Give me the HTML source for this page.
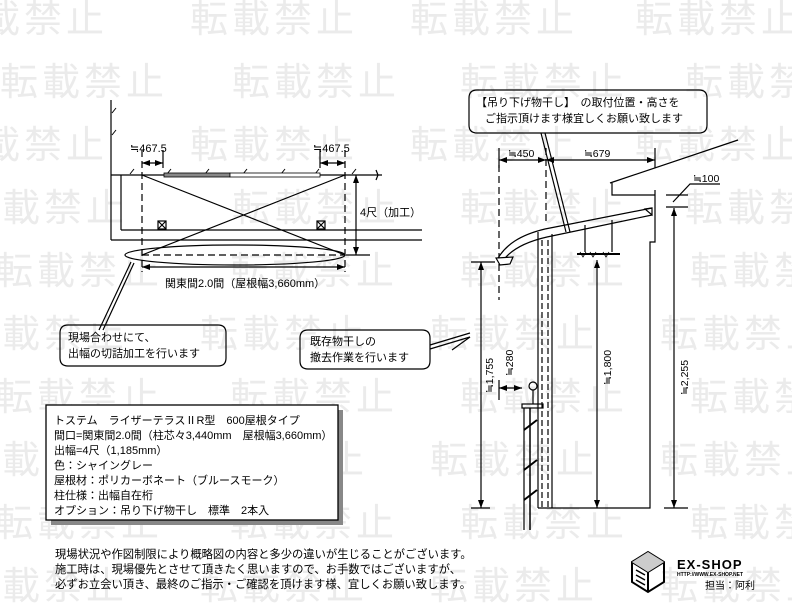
<!DOCTYPE html>
<html><head><meta charset="utf-8"><style>
html,body{margin:0;padding:0;background:#fff;}
svg{display:block;}
text{font-family:"Liberation Sans","Noto Sans CJK JP",sans-serif;fill:#000;}
.wm{font-size:38px;fill:#ebebeb;letter-spacing:4px;}
</style></head><body>
<svg width="792" height="612" viewBox="0 0 792 612" xmlns="http://www.w3.org/2000/svg">
<g class="wm">
<text x="-60" y="32" class="wm">転載禁止</text><text x="190" y="32" class="wm">転載禁止</text><text x="410" y="32" class="wm">転載禁止</text><text x="635" y="32" class="wm">転載禁止</text>
<text x="0" y="95" class="wm">転載禁止</text><text x="232" y="95" class="wm">転載禁止</text><text x="460" y="95" class="wm">転載禁止</text><text x="685" y="95" class="wm">転載禁止</text>
<text x="-60" y="158" class="wm">転載禁止</text><text x="190" y="158" class="wm">転載禁止</text><text x="410" y="158" class="wm">転載禁止</text><text x="635" y="158" class="wm">転載禁止</text>
<text x="-40" y="221" class="wm">転載禁止</text><text x="232" y="221" class="wm">転載禁止</text><text x="460" y="221" class="wm">転載禁止</text><text x="685" y="221" class="wm">転載禁止</text>
<text x="-5" y="284" class="wm">転載禁止</text><text x="230" y="284" class="wm">転載禁止</text><text x="460" y="284" class="wm">転載禁止</text><text x="690" y="284" class="wm">転載禁止</text>
<text x="-40" y="347" class="wm">転載禁止</text><text x="200" y="347" class="wm">転載禁止</text><text x="430" y="347" class="wm">転載禁止</text><text x="660" y="347" class="wm">転載禁止</text>
<text x="-5" y="410" class="wm">転載禁止</text><text x="230" y="410" class="wm">転載禁止</text><text x="460" y="410" class="wm">転載禁止</text><text x="690" y="410" class="wm">転載禁止</text>
<text x="-40" y="473" class="wm">転載禁止</text><text x="200" y="473" class="wm">転載禁止</text><text x="430" y="473" class="wm">転載禁止</text><text x="660" y="473" class="wm">転載禁止</text>
<text x="-5" y="536" class="wm">転載禁止</text><text x="230" y="536" class="wm">転載禁止</text><text x="460" y="536" class="wm">転載禁止</text><text x="690" y="536" class="wm">転載禁止</text>
<text x="-40" y="599" class="wm">転載禁止</text><text x="200" y="599" class="wm">転載禁止</text><text x="430" y="599" class="wm">転載禁止</text><text x="660" y="599" class="wm">転載禁止</text>
</g>
<defs>
<marker id="ar" markerWidth="8" markerHeight="6" refX="8" refY="3" orient="auto" markerUnits="userSpaceOnUse"><path d="M0,0 L8,3 L0,6 z" fill="#000"/></marker>
<marker id="al" markerWidth="8" markerHeight="6" refX="0" refY="3" orient="auto" markerUnits="userSpaceOnUse"><path d="M8,0 L0,3 L8,6 z" fill="#000"/></marker>
</defs>
<g stroke="#000" fill="none" stroke-width="1.2">
<line x1="111" y1="100" x2="111" y2="240"/>
<line x1="111" y1="240" x2="422" y2="240"/>
<line x1="121" y1="175" x2="121" y2="230"/>
<line x1="121" y1="230" x2="422" y2="230"/>
<line x1="111" y1="175" x2="382" y2="175"/>
<path d="M376,170 L378,175 L376,180"/>
<g stroke-width="1"><line x1="112" y1="113" x2="116" y2="108"/><line x1="112" y1="135" x2="116" y2="130"/><line x1="130" y1="174" x2="134" y2="169"/><line x1="167" y1="174" x2="171" y2="169"/><line x1="205" y1="174" x2="209" y2="169"/><line x1="243" y1="174" x2="247" y2="169"/><line x1="281" y1="174" x2="285" y2="169"/><line x1="315" y1="174" x2="319" y2="169"/><line x1="352" y1="174" x2="356" y2="169"/></g>
<rect x="164" y="173" width="66" height="4" fill="#888" stroke="#000" stroke-width="0.8"/>
<rect x="230" y="173" width="90" height="4" fill="#fff" stroke="#000" stroke-width="0.8"/>
<g stroke-dasharray="7,4">
<line x1="142" y1="150" x2="142" y2="272"/><line x1="345" y1="150" x2="345" y2="272"/>
<line x1="142" y1="255" x2="345" y2="255"/>
</g>
<line x1="142" y1="175" x2="345" y2="255"/><line x1="345" y1="175" x2="142" y2="255"/>
<rect x="158" y="221" width="8" height="8"/><path d="M158,221 L166,229 M166,221 L158,229"/>
<rect x="317" y="221" width="8" height="8"/><path d="M317,221 L325,229 M325,221 L317,229"/>
<line x1="163" y1="150" x2="163" y2="168"/><line x1="320" y1="150" x2="320" y2="168"/>
<line x1="142" y1="163" x2="163" y2="163" marker-start="url(#al)" marker-end="url(#ar)"/>
<line x1="320" y1="163" x2="345" y2="163" marker-start="url(#al)" marker-end="url(#ar)"/>
<line x1="356" y1="175" x2="356" y2="255" marker-start="url(#al)" marker-end="url(#ar)"/>
<line x1="346" y1="255" x2="370" y2="255"/>
<line x1="142" y1="267" x2="345" y2="267" marker-start="url(#al)" marker-end="url(#ar)"/>
<ellipse cx="235" cy="255" rx="110" ry="10"/>
<path d="M131,262 L99,330 M134,263 L103,330"/>
<path d="M68,325 H218 Q226,325 226,333 V358 Q226,366 218,366 H68 Q60,366 60,358 V333 Q60,325 68,325 Z"/>
<path d="M308,330 H422 Q430,330 430,338 V361 Q430,369 422,369 H308 Q300,369 300,361 V338 Q300,330 308,330 Z"/>
<path d="M430,345 L470,333 M430,349 L470,337"/>
<rect x="51" y="410" width="292" height="115" fill="#888" stroke="none"/>
<rect x="46" y="405" width="292" height="115" fill="#fff" stroke="#000" stroke-width="1.3"/>
<path d="M477,90 H699 Q707,90 707,98 V125 Q707,133 699,133 H477 Q469,133 469,125 V98 Q469,90 477,90 Z"/>
<path d="M541,133 L566,232 M545,133 L570,232"/>
<line x1="499" y1="148" x2="499" y2="168"/><line x1="655" y1="148" x2="655" y2="168"/>
<line x1="499" y1="160" x2="546" y2="160" marker-start="url(#al)" marker-end="url(#ar)"/>
<line x1="546" y1="160" x2="655" y2="160" marker-start="url(#al)" marker-end="url(#ar)"/>
<g stroke-dasharray="7,4"><line x1="499" y1="165" x2="499" y2="300"/><line x1="546" y1="148" x2="546" y2="225"/></g>
<line x1="610" y1="183" x2="738" y2="140"/>
<path d="M612,183 V195 H655"/>
<path d="M655,190 V242 H650 V508 H538"/>
<path d="M497,260 C505,245 520,235 545,229 L652,208"/>
<path d="M502,262 C510,250 525,242 547,237 L652,215"/>
<path d="M496,258 L500,265 L510,264 L513,257 Z" fill="#fff"/>
<path d="M645,209 L652,208 L652,215 Z"/>
<line x1="538" y1="232" x2="538" y2="508"/><line x1="552" y1="234" x2="552" y2="508"/>
<g stroke-dasharray="6,3"><line x1="542" y1="240" x2="542" y2="508"/><line x1="548" y1="240" x2="548" y2="508"/></g>
<line x1="585" y1="225" x2="585" y2="252"/><line x1="612" y1="220" x2="612" y2="252"/>
<line x1="577" y1="254" x2="620" y2="254" stroke-width="2"/>
<path d="M580,252 L583,257 L586,252 M590,252 L593,257 L596,252 M603,252 L606,257 L609,252" stroke-width="0.8"/>
<line x1="666" y1="195" x2="688" y2="195"/><line x1="666" y1="207" x2="688" y2="207"/>
<path d="M673,202 L690,184 H720"/>
<line x1="674" y1="208" x2="674" y2="508" marker-start="url(#al)" marker-end="url(#ar)"/>
<line x1="664" y1="508" x2="688" y2="508"/>
<line x1="597" y1="260" x2="597" y2="508" marker-start="url(#al)" marker-end="url(#ar)"/>
<line x1="481" y1="262" x2="481" y2="508" marker-start="url(#al)" marker-end="url(#ar)"/>
<line x1="471" y1="262" x2="495" y2="262"/><line x1="471" y1="508" x2="490" y2="508"/>
<line x1="499" y1="388" x2="522" y2="388" marker-start="url(#al)" marker-end="url(#ar)"/>
<line x1="499" y1="380" x2="499" y2="400"/>
<line x1="452" y1="350" x2="470" y2="337"/>
<circle cx="533" cy="386" r="4"/>
<line x1="533" y1="390" x2="533" y2="404"/>
<rect x="522" y="404" width="21" height="4"/>
<line x1="524" y1="408" x2="524" y2="530"/><line x1="530" y1="408" x2="530" y2="530" stroke-width="1.5"/>
<path d="M524,430 L537,420 M524,470 L537,460 M524,500 L537,490" stroke-width="2"/>
<path d="M632,562 L648,552 L664,562 L664,582 L648,592 L632,582 Z" stroke-width="2"/>
<path d="M632,562 L648,572 L664,562 M648,572 L648,592" stroke-width="2"/>
<path d="M636,570 L645,575 M636,575 L645,580 M636,580 L645,585" stroke-width="1.5"/>
</g>
<path d="M648,552 L664,562 L648,572 L632,562 Z" fill="#ccc"/>
<text x="130" y="152" font-size="11">≒467.5</text>
<text x="313" y="152" font-size="11">≒467.5</text>
<text x="360" y="216" font-size="11">4尺（加工）</text>
<text x="165" y="287" font-size="11">関東間2.0間（屋根幅3,660mm）</text>
<text x="68" y="341" font-size="11">現場合わせにて、</text>
<text x="68" y="357" font-size="11">出幅の切詰加工を行います</text>
<text x="310" y="345" font-size="11">既存物干しの</text>
<text x="310" y="361" font-size="11">撤去作業を行います</text>
<g font-size="11">
<text x="54" y="424">トステム　ライザーテラスⅡR型　600屋根タイプ</text>
<text x="54" y="439">間口=関東間2.0間（柱芯々3,440mm　屋根幅3,660mm）</text>
<text x="54" y="454">出幅=4尺（1,185mm）</text>
<text x="54" y="469">色：シャイングレー</text>
<text x="54" y="484">屋根材：ポリカーボネート（ブルースモーク）</text>
<text x="54" y="499">柱仕様：出幅自在桁</text>
<text x="54" y="514">オプション：吊り下げ物干し　標準　2本入</text>
</g>
<g font-size="11.3">
<text x="55" y="558">現場状況や作図制限により概略図の内容と多少の違いが生じることがございます。</text>
<text x="55" y="573">施工時は、現場優先とさせて頂きたく思いますので、お手数ではございますが、</text>
<text x="55" y="588">必ずお立会い頂き、最終のご指示・ご確認を頂けます様、宜しくお願い致します。</text>
</g>
<text x="476" y="106" font-size="11">【吊り下げ物干し】　の取付位置・高さを</text>
<text x="485" y="122" font-size="11">ご指示頂けます様宜しくお願い致します</text>
<text x="508" y="157" font-size="10.5">≒450</text>
<text x="584" y="157" font-size="10.5">≒679</text>
<text x="693" y="182" font-size="10.5">≒100</text>
<text font-size="10.5" transform="translate(688,395) rotate(-90)">≒2,255</text>
<text font-size="10.5" transform="translate(611,385) rotate(-90)">≒1,800</text>
<text font-size="10.5" transform="translate(493,393) rotate(-90)">≒1,755</text>
<text font-size="10.5" transform="translate(513,376) rotate(-90)">≒280</text>
<text x="677" y="569" font-size="13" font-weight="bold" letter-spacing="1">EX-SHOP</text>
<text x="677" y="576" font-size="5" font-weight="bold">HTTP://WWW.EX-SHOP.NET</text>
<text x="705" y="589" font-size="10">担当：阿利</text>
</svg>
</body></html>
